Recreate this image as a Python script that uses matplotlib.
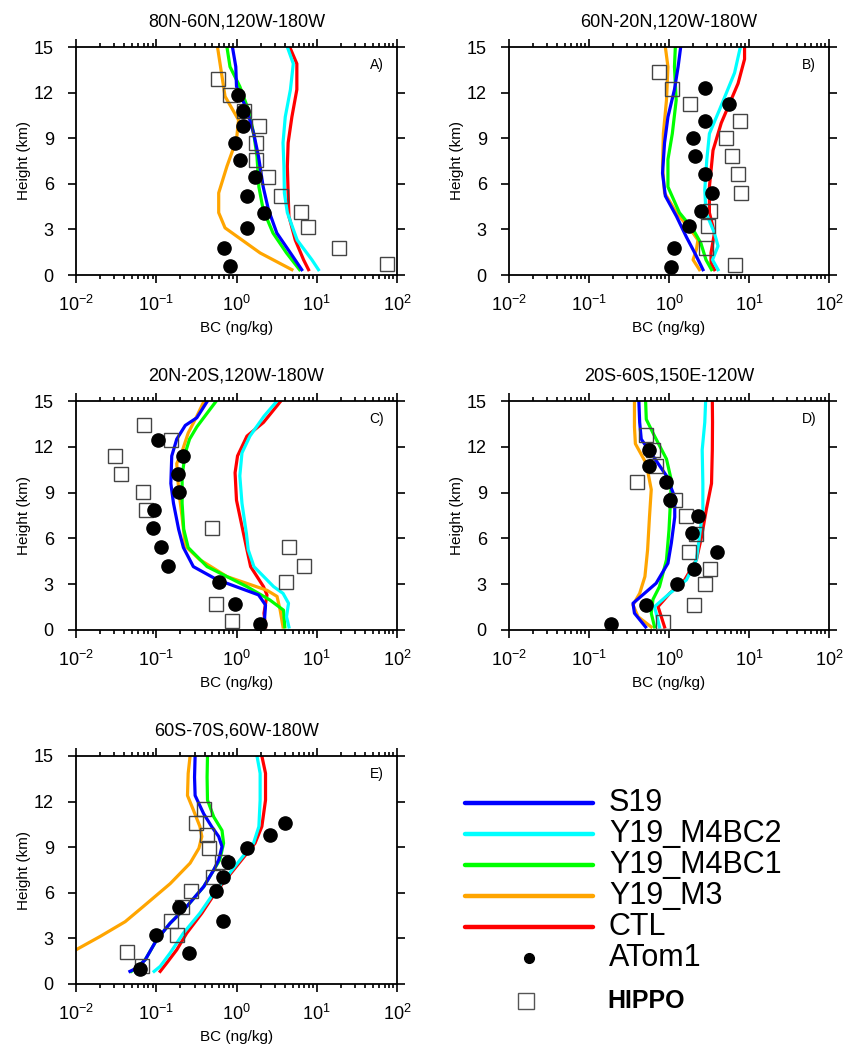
import matplotlib
matplotlib.use("Agg")
import matplotlib.pyplot as plt
from matplotlib.ticker import LogLocator, NullLocator

plt.rcParams['font.family'] = ['Liberation Sans', 'DejaVu Sans']
plt.rcParams['mathtext.fontset'] = 'custom'
plt.rcParams['mathtext.rm'] = 'Liberation Sans'
plt.rcParams['mathtext.it'] = 'Liberation Sans:italic'
plt.rcParams['mathtext.bf'] = 'Liberation Sans:bold'

# series names / colours (draw order: red, orange, green, cyan, blue)
names = ['S19', 'Y19_M4BC2', 'Y19_M4BC1', 'Y19_M3', 'CTL']
colors = ['#0000ff', '#00ffff', '#00ff00', '#ffa500', '#ff0000']
titles = ['80N-60N,120W-180W', '60N-20N,120W-180W', '20N-20S,120W-180W',
          '20S-60S,150E-120W', '60S-70S,60W-180W']
letters = ['A)', 'B)', 'C)', 'D)', 'E)']

# model profiles: (height km, BC ng/kg)
A_S19 = [(15, 0.89), (13.7, 0.98), (12.4, 1.0), (10.9, 1.34), (9.3, 1.64), (7.8, 1.88), (5.8, 2.15),
         (4.3, 2.5), (2.76, 3.18), (1.45, 4.7), (0.35, 6.5)]
A_M4BC2 = [(15, 4.3), (13.9, 5.1), (12.2, 4.7), (10.4, 4.05), (8.7, 3.8), (7.15, 3.9), (5.4, 3.95),
           (4.1, 4.3), (2.3, 5.7), (1.0, 8.7), (0.35, 10.5)]
A_M4BC1 = [(15, 0.76), (13.7, 0.83), (12.4, 1.1), (10.9, 1.4), (9.3, 1.64), (7.8, 1.8), (5.8, 1.9),
           (4.3, 2.15), (2.76, 2.85), (1.45, 4.2), (0.35, 6.1)]
A_M3 = [(15, 0.58), (11.75, 0.72), (10.2, 1.06), (8.9, 1.0), (7.15, 0.76), (5.4, 0.6), (4.1, 0.6),
        (3.1, 0.72), (1.45, 1.97), (0.35, 4.9)]
A_CTL = [(15, 4.6), (13.9, 5.65), (12.2, 5.65), (10.4, 4.9), (8.7, 4.4), (7.15, 4.3), (5.4, 4.4),
         (3.86, 4.5), (2.3, 5.4), (1.0, 6.85), (0.35, 7.9)]

B_S19 = [(15, 1.4), (13.7, 1.3), (12.2, 1.17), (10.4, 0.97), (8.7, 0.88), (6.7, 0.83), (5.2, 0.9),
         (3.86, 1.24), (2.5, 1.65), (1.45, 2.1), (0.35, 2.66)]
B_M4BC2 = [(15, 7.8), (13.3, 6.6), (10.9, 4.3), (9.3, 3.2), (7.6, 2.97), (5.6, 2.8), (4.1, 2.9),
           (2.76, 3.7), (1.9, 4.1), (1.0, 3.5), (0.35, 4.1)]
B_M4BC1 = [(15, 1.2), (13.7, 1.17), (11.5, 1.23), (9.3, 1.1), (7.6, 0.97), (5.8, 0.97), (4.1, 1.35),
           (3.0, 2.0), (2.1, 2.5), (1.0, 2.9), (0.35, 3.4)]
B_M3 = [(15, 0.9), (13.7, 0.97), (11.5, 0.93), (9.3, 0.85), (7.1, 0.83), (5.4, 0.88), (4.1, 1.24),
        (2.76, 2.0), (2.3, 2.3), (1.67, 2.2), (1.0, 2.0), (0.35, 2.4)]
B_CTL = [(15, 8.8), (14.2, 8.8), (12.6, 7.3), (10.0, 4.5), (8.2, 3.55), (5.8, 3.2), (4.1, 3.2),
         (2.76, 3.7), (1.45, 3.35), (0.8, 3.35), (0.35, 3.7)]

C_S19 = [(15, 0.435), (13.9, 0.32), (13.4, 0.23), (12.5, 0.18), (11.4, 0.156), (9.6, 0.152), (8.3, 0.164),
         (6.6, 0.19), (5.4, 0.218), (4.15, 0.29), (3.3, 0.57), (2.3, 1.88), (1.64, 2.3), (0.2, 2.2)]
C_M4BC2 = [(15, 3.2), (14.0, 2.2), (12.7, 1.47), (11.6, 1.17), (10.1, 1.1), (8.3, 1.17), (6.3, 1.33),
           (5.25, 1.4), (4.15, 1.65), (2.84, 2.9), (2.4, 3.8), (1.75, 4.45), (0.87, 4.2), (0.2, 4.5)]
C_M4BC1 = [(15, 0.56), (14.2, 0.43), (13.3, 0.32), (12.5, 0.26), (11.6, 0.23), (10.1, 0.21), (8.3, 0.21),
           (6.6, 0.22), (5.4, 0.25), (4.15, 0.43), (2.84, 1.35), (1.97, 2.6), (1.3, 3.85), (0.2, 4.0)]
C_M3 = [(15, 0.395), (14.0, 0.32), (12.9, 0.25), (11.7, 0.21), (10.9, 0.18), (9.2, 0.19), (7.4, 0.21),
        (5.5, 0.23), (4.6, 0.35), (3.5, 0.76), (2.6, 2.4), (2.2, 3.2), (1.3, 3.5), (0.2, 3.8)]
C_CTL = [(15, 3.57), (13.6, 2.17), (12.7, 1.35), (11.4, 1.03), (10.3, 0.96), (8.5, 1.0), (6.8, 1.17),
         (5.25, 1.35), (4.15, 1.5), (2.84, 2.17), (2.3, 2.4), (1.1, 2.2), (0.2, 2.3)]

D_S19 = [(15, 0.42), (13.6, 0.43), (12.5, 0.45), (11.4, 0.63), (10.1, 0.93), (8.7, 1.18), (7.4, 1.18),
         (5.7, 1.07), (4.37, 0.97), (3.06, 0.69), (1.75, 0.355), (1.1, 0.37), (0.2, 0.51)]
D_M4BC2 = [(15, 2.87), (13.6, 2.8), (11.8, 2.6), (9.6, 2.65), (7.9, 2.65), (6.1, 2.4), (4.6, 2.2),
           (3.28, 1.65), (2.4, 1.02), (1.53, 0.66), (0.2, 0.76)]
D_M4BC1 = [(15, 0.51), (13.8, 0.52), (12.7, 0.66), (11.2, 0.93), (9.8, 1.07), (8.3, 1.04), (6.56, 1.0),
           (4.6, 0.93), (2.84, 0.76), (2.0, 0.63), (1.1, 0.6), (0.2, 0.66)]
D_M3 = [(15, 0.37), (13.3, 0.37), (12.2, 0.38), (10.9, 0.52), (9.2, 0.6), (7.4, 0.57), (5.25, 0.54),
        (3.5, 0.5), (2.4, 0.43), (1.64, 0.355), (0.87, 0.41), (0.2, 0.6)]
D_CTL = [(15, 3.48), (13.6, 3.5), (11.8, 3.48), (9.6, 3.4), (7.9, 2.93), (6.1, 2.55), (4.6, 2.2),
         (3.28, 1.57), (2.4, 1.02), (1.53, 0.73), (0.2, 0.88)]

E_S19 = [(15, 0.305), (13.6, 0.3), (12.4, 0.305), (11.2, 0.39), (10.36, 0.49), (9.7, 0.6), (9.04, 0.66),
         (8.17, 0.6), (7.5, 0.52), (6.4, 0.39), (5.1, 0.24), (4.0, 0.149), (2.9, 0.101), (1.6, 0.073),
         (1.05, 0.057), (0.83, 0.047)]
E_M4BC2 = [(15, 1.8), (13.86, 1.97), (12.1, 1.97), (10.36, 1.9), (9.26, 1.63), (8.17, 1.11), (7.07, 0.76),
           (5.98, 0.52), (4.66, 0.35), (3.35, 0.218), (2.04, 0.149), (1.16, 0.112), (0.83, 0.094)]
E_M4BC1 = [(15, 0.435), (13.6, 0.43), (12.1, 0.435), (11.0, 0.52), (10.1, 0.66), (9.26, 0.69), (8.17, 0.62),
           (7.5, 0.52), (6.4, 0.39), (5.1, 0.24), (4.0, 0.149), (2.9, 0.101), (1.6, 0.073), (1.05, 0.057),
           (0.83, 0.049)]
E_M3 = [(15, 0.264), (13.86, 0.25), (12.4, 0.245), (11.45, 0.29), (10.36, 0.35), (9.7, 0.37), (8.93, 0.34),
        (7.95, 0.264), (6.6, 0.149), (5.1, 0.069), (4.1, 0.041), (3.13, 0.02), (2.25, 0.01), (0.83, 0.0035)]
E_CTL = [(15, 2.07), (13.86, 2.3), (12.1, 2.3), (10.36, 2.07), (9.26, 1.7), (8.17, 1.16), (7.07, 0.79),
         (5.98, 0.54), (4.66, 0.37), (3.35, 0.24), (2.25, 0.18), (1.38, 0.135), (0.83, 0.112)]

# observations
A_ATOM_H = [11.86, 10.8, 9.78, 8.68, 7.59, 6.43, 5.22, 4.08, 3.09, 1.78, 0.57]
A_ATOM = [1.03, 1.22, 1.22, 0.96, 1.09, 1.71, 1.35, 2.17, 1.35, 0.69, 0.83]
A_HIPPO_H = [12.92, 11.86, 10.8, 9.78, 8.68, 7.59, 6.43, 5.22, 4.12, 3.14, 1.78, 0.72]
A_HIPPO = [0.58, 0.83, 1.25, 1.88, 1.75, 1.75, 2.5, 3.57, 6.3, 7.7, 18.7, 75]

B_ATOM_H = [12.3, 11.25, 10.1, 9.01, 7.85, 6.67, 5.39, 4.19, 3.2, 1.78, 0.5]
B_ATOM = [2.8, 5.6, 2.8, 2.0, 2.1, 2.8, 3.45, 2.5, 1.76, 1.14, 1.07]
B_HIPPO_H = [13.35, 12.26, 11.25, 10.1, 9.01, 7.85, 6.67, 5.39, 4.19, 3.2, 1.78, 0.68]
B_HIPPO = [0.74, 1.09, 1.81, 7.8, 5.2, 6.2, 7.3, 8.0, 3.3, 3.05, 2.93, 6.6]

C_ATOM_H = [12.42, 11.37, 10.23, 9.07, 7.87, 6.65, 5.42, 4.2, 3.17, 1.71, 0.39]
C_ATOM = [0.104, 0.214, 0.185, 0.19, 0.095, 0.092, 0.115, 0.142, 0.61, 0.96, 1.97]
C_HIPPO_H = [13.45, 12.42, 11.37, 10.23, 9.07, 7.87, 6.65, 5.42, 4.2, 3.17, 1.71, 0.61]
C_HIPPO = [0.071, 0.152, 0.031, 0.036, 0.068, 0.075, 0.49, 4.45, 7.0, 4.1, 0.56, 0.87]

D_ATOM_H = [0.39, 1.64, 2.99, 4.0, 5.14, 6.34, 7.48, 8.53, 9.67, 10.72, 11.77]
D_ATOM = [0.187, 0.52, 1.26, 2.03, 3.98, 1.94, 2.3, 1.02, 0.91, 0.57, 0.56]
D_HIPPO_H = [0.55, 1.64, 2.99, 4.0, 5.14, 6.3, 7.48, 8.53, 9.67, 10.72, 11.77, 12.8]
D_HIPPO = [0.84, 2.03, 2.85, 3.3, 1.78, 2.15, 1.65, 1.18, 0.4, 0.69, 0.64, 0.52]

E_ATOM_H = [0.99, 2.04, 3.24, 4.12, 5.06, 6.09, 7.07, 8.01, 8.93, 9.81, 10.62]
E_ATOM = [0.063, 0.257, 0.1, 0.68, 0.19, 0.56, 0.68, 0.79, 1.37, 2.63, 4.05]
E_HIPPO_H = [1.16, 2.08, 3.24, 4.12, 5.06, 6.09, 7.07, 8.01, 8.93, 9.81, 10.62, 11.54]
E_HIPPO = [0.066, 0.043, 0.18, 0.152, 0.21, 0.27, 0.51, 0.66, 0.46, 0.43, 0.31, 0.39]

panels = [
    ([A_S19, A_M4BC2, A_M4BC1, A_M3, A_CTL], A_ATOM_H, A_ATOM, A_HIPPO_H, A_HIPPO),
    ([B_S19, B_M4BC2, B_M4BC1, B_M3, B_CTL], B_ATOM_H, B_ATOM, B_HIPPO_H, B_HIPPO),
    ([C_S19, C_M4BC2, C_M4BC1, C_M3, C_CTL], C_ATOM_H, C_ATOM, C_HIPPO_H, C_HIPPO),
    ([D_S19, D_M4BC2, D_M4BC1, D_M3, D_CTL], D_ATOM_H, D_ATOM, D_HIPPO_H, D_HIPPO),
    ([E_S19, E_M4BC2, E_M4BC1, E_M3, E_CTL], E_ATOM_H, E_ATOM, E_HIPPO_H, E_HIPPO),
]

W, H = 844, 1047
fig = plt.figure(figsize=(W / 100, H / 100), dpi=100)

# axes boxes in pixels (left, top, right, bottom)
boxes = [(76, 47, 397, 275), (509, 47, 829, 275), (76, 401, 397, 630),
         (509, 401, 829, 630), (76, 756, 397, 984)]

draw_order = [4, 3, 2, 1, 0]

for k, (profiles, ah, av, hh, hv) in enumerate(panels):
    l, t, r, b = boxes[k]
    ax = fig.add_axes([l / W, 1 - b / H, (r - l) / W, (b - t) / H])
    for i in draw_order:
        prof = profiles[i]
        ax.plot([p[1] for p in prof], [p[0] for p in prof], color=colors[i], lw=2.3)
    ax.plot(hv, hh, 's', ms=9.5, mfc='none', mec='#444444', mew=1.0, zorder=5)
    ax.plot(av, ah, 'o', ms=9.5, color='black', zorder=6)

    ax.set_xscale('log')
    ax.set_xlim(1e-2, 1e2)
    ax.set_ylim(0, 15)
    ax.set_yticks(range(0, 16, 3))
    ax.yaxis.set_minor_locator(NullLocator())
    ax.xaxis.set_minor_locator(LogLocator(subs=range(2, 10)))
    ax.tick_params(which='both', direction='out', top=True, right=True, labelsize=13, width=1.2)
    ax.tick_params(which='major', length=6)
    ax.tick_params(which='minor', length=3)
    ax.tick_params(axis='x', which='major', pad=8)
    ax.tick_params(axis='y', which='major', pad=10)
    for s in ax.spines.values():
        s.set_linewidth(1.3)
    ax.set_title(titles[k], fontsize=13, pad=15)
    ax.set_ylabel('Height (km)', fontsize=11, labelpad=2)
    ax.set_xlabel('BC (ng/kg)', fontsize=11, labelpad=5)
    ax.text(0.96, 0.92, letters[k], transform=ax.transAxes, ha='right', va='center', fontsize=10)

# legend drawn in pixel space
leg = fig.add_axes([0, 0, 1, 1])
leg.set_xlim(0, W)
leg.set_ylim(H, 0)
leg.axis('off')
y0, step = 803, 31
for i, name in enumerate(names):
    y = y0 + i * step
    leg.plot([465, 593], [y, y], color=colors[i], lw=3.2, solid_capstyle='round')
    leg.text(609, y, name, fontsize=22, va='center')
y = y0 + 5 * step
leg.plot([529], [y], 'o', ms=7, color='black')
leg.text(609, y, 'ATom1', fontsize=22, va='center')
y = y + 43
leg.plot([526], [y], 's', ms=11, mfc='none', mec='#555555', mew=1.0)
leg.text(607, y, 'HIPPO', fontsize=18, fontweight='bold', va='center')

fig.savefig('out.png', dpi=100)
